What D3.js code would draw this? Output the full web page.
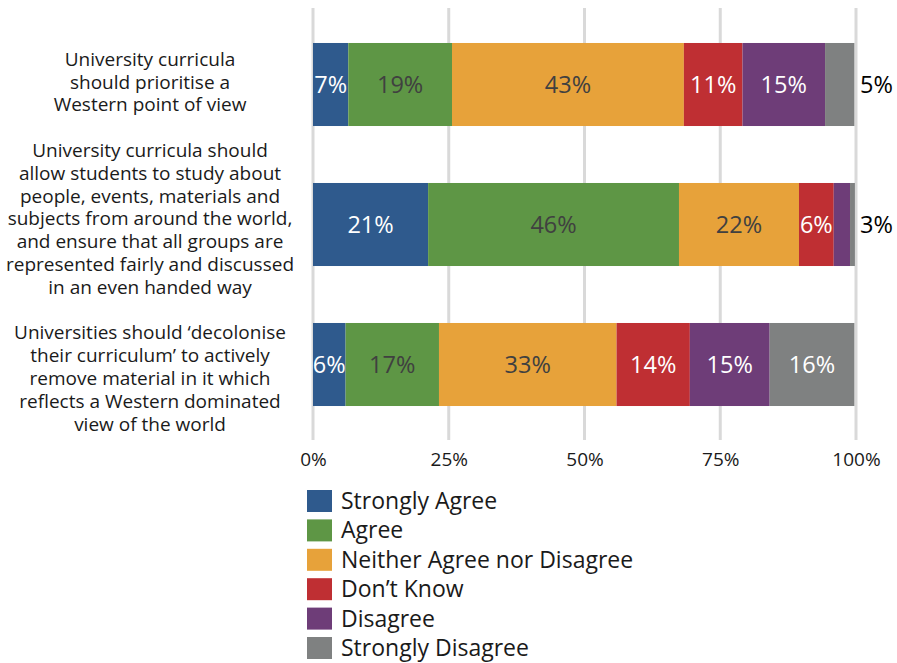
<!DOCTYPE html>
<html><head><meta charset="utf-8">
<script src="https://cdn.jsdelivr.net/npm/d3@7"></script>
<style>body{margin:0;background:#fff}svg{display:block}text{font-family:"Open Sans",sans-serif}</style>
</head><body><svg id="c" width="897" height="663"></svg>
<script>
const categories = [
  ["University curricula","should prioritise a","Western point of view"],
  ["University curricula should","allow students to study about","people, events, materials and","subjects from around the world,","and ensure that all groups are","represented fairly and discussed","in an even handed way"],
  ["Universities should \u2018decolonise","their curriculum\u2019 to actively","remove material in it which","reflects a Western dominated","view of the world"]
];
const seriesNames = ["Strongly Agree","Agree","Neither Agree nor Disagree","Don\u2019t Know","Disagree","Strongly Disagree"];
const stronglyAgree = [6.5, 21.2, 6.0];
const agree = [19.1, 46.2, 17.2];
const neither = [42.7, 22.1, 32.7];
const dontKnow = [10.8, 6.4, 13.5];
const disagree = [15.2, 3.0, 14.7];
const stronglyDisagree = [5.4, 0.9, 15.6];
const tickValues = [0, 25, 50, 75, 100];
const colors = ["#2f5a8d","#5e9645","#e7a23a","#bf2f33","#6e3d78","#7f8181"];
const labelColors = ["#fff","#404040","#404040","#fff","#fff","#fff"];

const series = [stronglyAgree, agree, neither, dontKnow, disagree, stronglyDisagree];
const svg = d3.select("#c");
const x = d3.scaleLinear().domain([0,100]).range([313,856]);
const y = d3.scaleBand().domain(d3.range(categories.length)).range([14.5,434.5]).paddingInner(0.407).paddingOuter(0.2035);

// gridlines
svg.append("g").selectAll("line").data(tickValues).join("line")
  .attr("x1", d=>x(d)).attr("x2", d=>x(d)).attr("y1", 8).attr("y2", 440)
  .attr("stroke", "#d9d9d9").attr("stroke-width", 3);

// axis labels
const ax = svg.append("g").attr("transform","translate(0,440)")
  .call(d3.axisBottom(x).tickValues(tickValues).tickFormat(d=>d+"%").tickSize(0).tickPadding(13));
ax.select(".domain").remove();
ax.selectAll("text").attr("font-size",19).attr("fill","#1a1a1a").attr("font-family","Open Sans, sans-serif");

// bars
categories.forEach((cat, i) => {
  let cum = 0;
  const g = svg.append("g");
  series.forEach((s, j) => {
    const v = s[i];
    const x0 = cum, x1 = cum + v;
    cum = x1;
    g.append("rect").attr("x", x(x0)).attr("y", y(i)).attr("width", x(x1)-x(x0)).attr("height", y.bandwidth()).attr("fill", colors[j]);
    if (v >= 5.9) {
      g.append("text").attr("x", (x(x0)+x(x1))/2).attr("y", y(i)+y.bandwidth()/2).attr("dy","0.36em")
        .attr("text-anchor","middle").attr("font-size",23.5).attr("fill",labelColors[j]).text(Math.round(v)+"%");
    }
  });
  // outside label (small last visible segment)
  const outIdx = i===1 ? 4 : 5;
  if (i !== 2) {
    svg.append("text").attr("x", x(100)+4).attr("y", y(i)+y.bandwidth()/2).attr("dy","0.36em")
      .attr("font-size",23.5).attr("fill","#000").text(Math.round(series[outIdx][i])+"%");
  }
});

// category labels as one flowing text block with blank lines between groups
const lh = 22.8;
let lineNo = 0;
const firstY = y(0) + y.bandwidth()/2 - 25.5;
const tb = svg.append("text").attr("text-anchor","middle").attr("font-size",19).attr("fill","#1a1a1a");
categories.forEach((cat) => {
  cat.forEach(line => {
    tb.append("tspan").attr("x",150).attr("y", firstY + lineNo*lh).attr("dy","0.36em").text(line);
    lineNo++;
  });
  lineNo++;
});

// legend
const lg = svg.append("g");
seriesNames.forEach((name,j)=>{
  const yy = 501 + j*29.4;
  lg.append("rect").attr("x",307).attr("y",yy-11).attr("width",25).attr("height",22).attr("fill",colors[j]);
  lg.append("text").attr("x",341).attr("y",yy).attr("dy","0.35em").attr("font-size",23).attr("fill","#1a1a1a").text(name);
});
</script></body></html>
